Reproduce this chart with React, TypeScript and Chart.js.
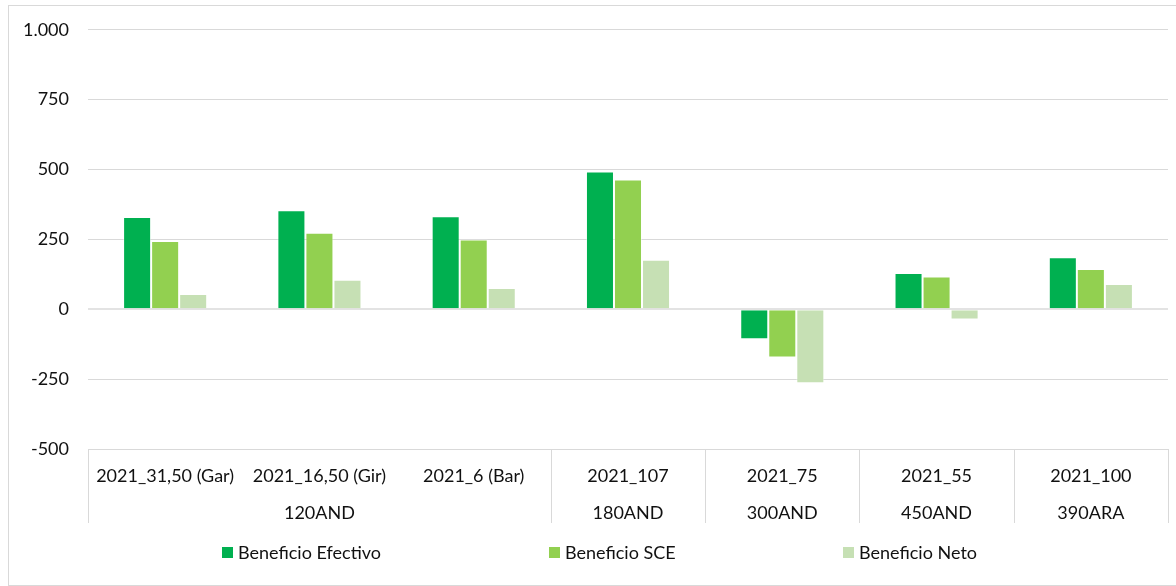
import React, { useEffect, useRef } from "react";
import { Chart, registerables } from "chart.js";

Chart.register(...registerables);

const categories = [
  "2021_31,50 (Gar)",
  "2021_16,50 (Gir)",
  "2021_6 (Bar)",
  "2021_107",
  "2021_75",
  "2021_55",
  "2021_100",
];
const groups = ["120AND", "120AND", "120AND", "180AND", "300AND", "450AND", "390ARA"];
const seriesNames = ["Beneficio Efectivo", "Beneficio SCE", "Beneficio Neto"];
const efectivo = [330, 354, 333, 493, -107, 130, 186];
const sce = [244, 274, 250, 464, -173, 117, 144];
const neto = [55, 106, 76, 177, -265, -37, 90];
const seriesColors = ["#00B050", "#92D050", "#C6E0B4"];
const yMin = -500;
const yMax = 1000;
const yStep = 250;

const FONT = "Lato, 'Open Sans', sans-serif";
const FONT_SIZE = 18;
const TEXT = "#111111";
const LINE = "#d9d9d9";

const fmt = (v: number) => {
  const s = Math.abs(v).toString().replace(/\B(?=(\d{3})+(?!\d))/g, ".");
  return (v < 0 ? "-" : "") + s;
};

const decorPlugin = {
  id: "decor",
  afterDraw(chart: any) {
    const { ctx, chartArea, scales } = chart;
    const x = scales.x;
    const n = categories.length;
    const top = chartArea.bottom;
    const half = (chartArea.right - chartArea.left) / n / 2;
    ctx.save();
    // outer frame
    ctx.strokeStyle = LINE;
    ctx.lineWidth = 1;
    ctx.strokeRect(8.5, 5.5, chart.width + 10, 580);

    // group separators
    const bounds: number[] = [0];
    for (let i = 1; i < n; i++) if (groups[i] !== groups[i - 1]) bounds.push(i);
    bounds.push(n);
    bounds.forEach((b) => {
      const px = Math.round(b < n ? x.getPixelForValue(b) - half : x.getPixelForValue(n - 1) + half) + 0.5;
      ctx.beginPath();
      ctx.moveTo(px, top);
      ctx.lineTo(px, top + 74);
      ctx.stroke();
    });

    // category labels
    ctx.fillStyle = TEXT;
    ctx.font = FONT_SIZE + "px " + FONT;
    ctx.textAlign = "center";
    ctx.textBaseline = "middle";
    categories.forEach((c, i) => ctx.fillText(c, x.getPixelForValue(i), top + 27));
    // group labels
    for (let k = 0; k < bounds.length - 1; k++) {
      const a = bounds[k];
      const b = bounds[k + 1] - 1;
      const cx = (x.getPixelForValue(a) + x.getPixelForValue(b)) / 2;
      ctx.fillText(groups[a], cx, top + 64);
    }

    // legend
    const legendX = [222, 549, 843];
    const ly = 553;
    ctx.textAlign = "left";
    seriesNames.forEach((name, i) => {
      ctx.fillStyle = seriesColors[i];
      ctx.fillRect(legendX[i], ly - 6, 11, 11);
      ctx.fillStyle = TEXT;
      ctx.fillText(name, legendX[i] + 16, ly);
    });
    ctx.restore();
  },
};

export default function App() {
  const ref = useRef<HTMLCanvasElement>(null);
  useEffect(() => {
    if (!ref.current) return;
    const data = [efectivo, sce, neto];
    const chart = new Chart(ref.current, {
      type: "bar",
      data: {
        labels: categories,
        datasets: seriesNames.map((name, i) => ({
          label: name,
          data: data[i],
          backgroundColor: seriesColors[i],
          borderColor: "rgba(255,255,255,0.45)",
          borderWidth: 1,
          categoryPercentage: 0.545,
          barPercentage: 1,
        })),
      },
      options: {
        animation: false,
        responsive: true,
        maintainAspectRatio: false,
        layout: { padding: { left: 8, top: 22, right: 8, bottom: 137 } },
        plugins: { legend: { display: false }, tooltip: { enabled: false } },
        scales: {
          x: { display: false },
          y: {
            min: yMin,
            max: yMax,
            afterFit: (s: any) => {
              s.width = 80;
            },
            border: { display: false },
            grid: {
              drawTicks: false,
              color: (c: any) => (c.tick && c.tick.value === 0 ? "#e3e3e3" : LINE),
              lineWidth: (c: any) => (c.tick && c.tick.value === 0 ? 2 : 1),
            },
            ticks: {
              stepSize: yStep,
              padding: 19,
              color: TEXT,
              font: { family: FONT, size: FONT_SIZE },
              callback: (v: any) => fmt(Number(v)),
            },
          },
        },
      },
      plugins: [decorPlugin],
    });
    return () => chart.destroy();
  }, []);
  return (
    <div style={{ position: "absolute", left: 0, top: 0, width: 1176, height: 586, background: "#fff" }}>
      <canvas ref={ref} />
    </div>
  );
}
